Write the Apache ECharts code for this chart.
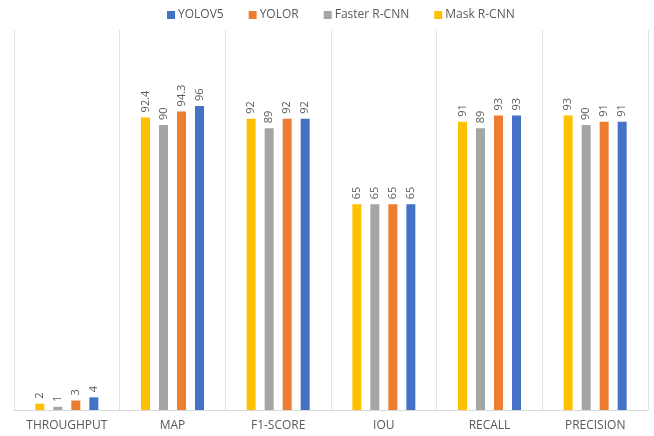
<!DOCTYPE html>
<html>
<head>
<meta charset="utf-8">
<script src="https://cdn.jsdelivr.net/npm/echarts@6/dist/echarts.min.js"></script>
<style>
  html, body { margin: 0; padding: 0; background: #fff; }
  #chart { width: 654px; height: 436px; }
</style>
</head>
<body>
<div id="chart"></div>
<script>
// Metric groups along the x axis
const categories = ['THROUGHPUT', 'MAP', 'F1-SCORE', 'IOU', 'RECALL', 'PRECISION'];

// Per-model scores, in category order
const maskRcnn   = [2, 92.4, 92, 65, 91, 93];
const fasterRcnn = [1, 90, 89, 65, 89, 90];
const yolor      = [3, 94.3, 92, 65, 93, 91];
const yolov5     = [4, 96, 92, 65, 93, 91];

const seriesNames  = ['Mask R-CNN', 'Faster R-CNN', 'YOLOR', 'YOLOV5'];
const seriesValues = [maskRcnn, fasterRcnn, yolor, yolov5];
const seriesColors = ['#FFC000', '#A5A5A5', '#ED7D31', '#4472C4'];
const legendOrder  = ['YOLOV5', 'YOLOR', 'Faster R-CNN', 'Mask R-CNN'];

const fontFamily = '"Open Sans", "Liberation Sans", sans-serif';
const textColor = '#595959';

const chart = echarts.init(document.getElementById('chart'), null, { renderer: 'canvas' });

chart.setOption({
  animation: false,
  backgroundColor: '#ffffff',
  textStyle: { fontFamily: fontFamily },
  legend: {
    data: legendOrder,
    top: 4,
    left: 162,
    itemWidth: 8,
    itemHeight: 8,
    itemGap: 25,
    icon: 'rect',
    textStyle: { color: textColor, fontSize: 12, fontFamily: fontFamily, padding: [0, 0, 0, -2] }
  },
  grid: { left: 14, right: 6, top: 30, bottom: 26, containLabel: false },
  xAxis: {
    type: 'category',
    data: categories,
    boundaryGap: true,
    axisLine: { show: true, lineStyle: { color: '#d9d9d9', width: 1 } },
    axisTick: { show: false },
    splitLine: { show: true, lineStyle: { color: '#e3e3e3', width: 1 } },
    axisLabel: { color: textColor, fontSize: 12, margin: 10, fontFamily: fontFamily }
  },
  yAxis: {
    type: 'value',
    min: 0,
    max: 120,
    show: false,
    splitLine: { show: false }
  },
  series: seriesNames.map((name, i) => ({
    name: name,
    type: 'bar',
    data: seriesValues[i],
    barWidth: 9,
    barGap: '100%',
    itemStyle: { color: seriesColors[i] },
    label: {
      show: true,
      position: 'top',
      rotate: 90,
      align: 'left',
      verticalAlign: 'middle',
      distance: 5,
      color: textColor,
      fontSize: 11,
      fontFamily: fontFamily
    }
  }))
});
</script>
</body>
</html>
